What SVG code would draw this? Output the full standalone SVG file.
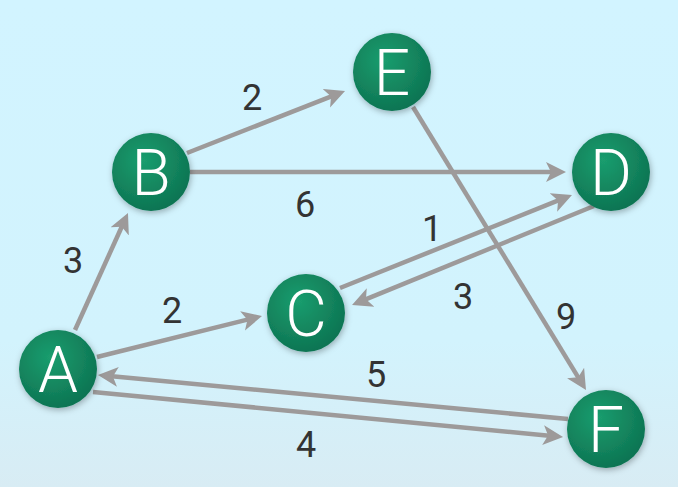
<svg xmlns="http://www.w3.org/2000/svg" width="678" height="487" viewBox="0 0 678 487">
<defs>
<linearGradient id="bg" x1="0" y1="0" x2="0" y2="1">
<stop offset="0" stop-color="#d2f4ff"/>
<stop offset="0.7" stop-color="#d2f3fd"/>
<stop offset="1" stop-color="#d8ecf4"/>
</linearGradient>
<radialGradient id="node" cx="0.4" cy="0.35" r="0.7">
<stop offset="0" stop-color="#1a9d6e"/>
<stop offset="1" stop-color="#0d7251"/>
</radialGradient>
<filter id="sh" x="-30%" y="-30%" width="160%" height="160%">
<feDropShadow dx="1" dy="2" stdDeviation="3" flood-color="#000" flood-opacity="0.3"/>
</filter>
<marker id="ah" viewBox="0 0 20 22" refX="6" refY="11" markerWidth="20" markerHeight="22" markerUnits="userSpaceOnUse" orient="auto">
<path d="M0,1 L20,11 L0,21 L5,11 z" fill="#9d9a9a"/>
</marker>
<style>
.e{stroke:#9d9a9a;stroke-width:4.5;fill:none;marker-end:url(#ah)}
.n{fill:url(#node);filter:url(#sh)}
.nl{font-family:Roboto,"Liberation Sans",sans-serif;font-weight:300;font-size:64px;fill:#fff;text-anchor:middle}
.l{font-family:Roboto,"Liberation Sans",sans-serif;font-size:36px;fill:#333;text-anchor:middle}
</style>
</defs>
<rect width="678" height="487" fill="url(#bg)"/>
<g id="connectors">
<line class="e" x1="75" y1="330" x2="122.2" y2="225.8"/>
<line class="e" x1="97" y1="357" x2="248.4" y2="319.4"/>
<line class="e" x1="187" y1="153" x2="332" y2="96.1"/>
<line class="e" x1="190" y1="172" x2="552" y2="172"/>
<line class="e" x1="340" y1="288" x2="559" y2="200.2"/>
<line class="e" x1="594" y1="206" x2="365" y2="299.7"/>
<line class="e" x1="413" y1="107" x2="578.7" y2="378.1"/>
<line class="e" x1="568" y1="419" x2="111.9" y2="376.3"/>
<line class="e" x1="93" y1="392" x2="549.1" y2="435.7"/>
</g>
<g id="labels">
<text class="l" x="73" y="273">3</text>
<text class="l" x="172" y="323">2</text>
<text class="l" x="252" y="110">2</text>
<text class="l" x="305" y="217">6</text>
<text class="l" x="432" y="241">1</text>
<text class="l" x="463" y="309">3</text>
<text class="l" x="566" y="329">9</text>
<text class="l" x="376" y="387">5</text>
<text class="l" x="306" y="457">4</text>
</g>
<g id="node-A"><circle class="n" cx="58" cy="369" r="39"/><text class="nl" x="58" y="392">A</text></g>
<g id="node-B"><circle class="n" cx="151" cy="172" r="39"/><text class="nl" x="151" y="195">B</text></g>
<g id="node-C"><circle class="n" cx="306" cy="313" r="39"/><text class="nl" x="306" y="336">C</text></g>
<g id="node-D"><circle class="n" cx="611" cy="172" r="39"/><text class="nl" x="611" y="195">D</text></g>
<g id="node-E"><circle class="n" cx="392" cy="72" r="39"/><text class="nl" x="392" y="95">E</text></g>
<g id="node-F"><circle class="n" cx="606" cy="429" r="39"/><text class="nl" x="606" y="452">F</text></g>
</svg>
